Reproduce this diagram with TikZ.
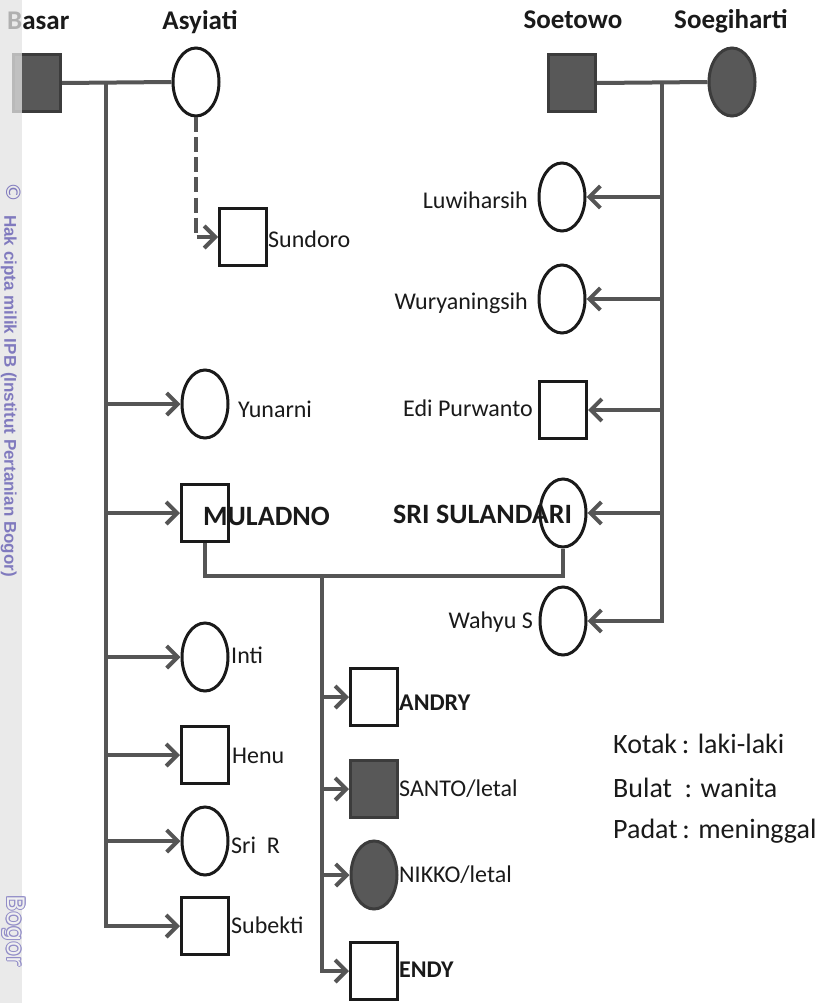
\documentclass[tikz,border=0pt]{standalone}
\usepackage{fontspec}
\setmainfont{Carlito}
\newfontfamily\wmfont{Liberation Sans}
\newfontfamily\wmcfont{DejaVu Sans}
\usetikzlibrary{arrows.meta,shapes.geometric}
\definecolor{ln}{HTML}{555555}
\definecolor{fillg}{HTML}{585858}
\definecolor{txt}{HTML}{1a1a1a}
\definecolor{wm}{RGB}{128,122,190}
\begin{document}
\begin{tikzpicture}[x=1pt,y=-1pt,
  line/.style={draw=ln, line width=4pt},
  arr/.style={line, -{Straight Barb[length=11pt,width=22pt]}},
  male/.style={rectangle, draw=txt, line width=3pt, minimum width=47pt, minimum height=57pt, inner sep=0pt, fill=white},
  female/.style={ellipse, draw=txt, line width=3pt, minimum width=46pt, minimum height=68pt, inner sep=0pt, fill=white},
  dead/.style={fill=fillg, draw=ln!70!black},
  lbl/.style={inner sep=0pt, text=txt, font=\fontsize{24}{28}\selectfont},
  blbl/.style={inner sep=0pt, text=txt, font=\fontsize{28}{32}\selectfont\bfseries},
  sblbl/.style={inner sep=0pt, text=txt, font=\fontsize{24}{28}\selectfont\bfseries},
  hdr/.style={inner sep=0pt, text=txt, font=\fontsize{27}{32}\selectfont\bfseries},
  leg/.style={inner sep=0pt, text=txt, font=\fontsize{28}{32}\selectfont},
  wmtext/.style={inner sep=0pt, text=wm, rotate=-90, anchor=base west}
]
\useasboundingbox (0,0) rectangle (828,1003);
\fill[white] (0,0) rectangle (828,1003);

% ---- persons ----
\node[male,dead] (basar) at (37,83) {};
\node[female] (asyiati) at (196,82) {};
\node[male,dead] (soetowo) at (572,83) {};
\node[female,dead] (soegiharti) at (732,82) {};
\node[male] (sundoro) at (243,237) {};
\node[female] (luwi) at (562,197) {};
\node[female] (wury) at (562,299) {};
\node[male] (edi) at (563,410) {};
\node[female] (sri) at (563,513) {};
\node[female] (wahyu) at (563,621) {};
\node[female] (yunarni) at (205,404) {};
\node[male] (muladno) at (205,513) {};
\node[female] (inti) at (205,657) {};
\node[male] (henu) at (205,755) {};
\node[female] (srir) at (205,841) {};
\node[male] (subekti) at (205,926) {};
\node[male] (andry) at (374,697) {};
\node[male,dead] (santo) at (374,789) {};
\node[female,dead] (nikko) at (374,875) {};
\node[male] (endy) at (374,971) {};

% ---- connectors ----
\coordinate (lj) at (106,83);
\coordinate (rj) at (662,82);
\coordinate (mj) at (322,576);
\draw[line] (basar.east) -- (asyiati.west);
\draw[line] (soetowo.east) -- (soegiharti.west);
\draw[arr] (lj) |- (subekti.west);
\foreach \n in {yunarni,muladno,inti,henu,srir}
  \draw[arr] (lj |- \n.west) -- (\n.west);
\draw[arr] (rj) |- (wahyu.east);
\foreach \n in {luwi,wury,edi,sri}
  \draw[arr] (rj |- \n.east) -- (\n.east);
\draw[line, dash pattern=on 15pt off 5pt, -{Straight Barb[length=11pt,width=22pt]}] (asyiati.south) |- (sundoro.west);
\draw[line] (muladno.south) |- (mj) -| (sri.south);
\draw[arr] (mj) |- (endy.west);
\foreach \n in {andry,santo,nikko}
  \draw[arr] (mj |- \n.west) -- (\n.west);

% ---- labels ----
\node[hdr, anchor=base west] (tbasar) at (7,30) {Basar};
\node[hdr, anchor=base] (tasy) at (200,30) {Asyiati};
\node[hdr, anchor=base] (tsoe) at (573,29) {Soetowo};
\node[hdr, anchor=base] (tsoeg) at (731,29) {Soegiharti};
\node[lbl, anchor=base east] (tluwi) at (528,208) {Luwiharsih};
\node[lbl, anchor=base east] (twury) at (528,309) {Wuryaningsih};
\node[lbl, anchor=base east] (tedi) at (533,416) {Edi Purwanto};
\node[blbl, anchor=base west] (tsri) at (393,523) {SRI SULANDARI};
\node[lbl, anchor=base east] (twah) at (533,628) {Wahyu S};
\node[lbl, anchor=base west] (tyun) at (238,417) {Yunarni};
\node[blbl, anchor=base west] (tmul) at (203,525) {MULADNO};
\node[lbl, anchor=base west] (tinti) at (231,663) {Inti};
\node[lbl, anchor=base west] (thenu) at (232,763) {Henu};
\node[lbl, anchor=base west] (tsrir) at (231,853) {Sri\ \ R};
\node[lbl, anchor=base west] (tsub) at (231,933) {Subekti};
\node[lbl, anchor=base west] (tsun) at (268,247) {Sundoro};
\node[sblbl, anchor=base west] (tand) at (399,710) {ANDRY};
\node[lbl, anchor=base west] (tsan) at (399,796) {SANTO/letal};
\node[lbl, anchor=base west] (tnik) at (399,882) {NIKKO/letal};
\node[sblbl, anchor=base west] (tend) at (399,977) {ENDY};
\node[leg, anchor=base west] (lg1) at (613,753) {Kotak\,: laki-laki};
\node[leg, anchor=base west] (lg2) at (613,797) {Bulat\ \ : wanita};
\node[leg, anchor=base west] (lg3) at (613,838) {Padat\,: meninggal};

% ---- watermark strip ----
\fill[gray!22, opacity=0.75] (0,0) rectangle (22,1003);
\node[wmtext, font=\wmcfont\fontsize{20}{20}\selectfont] (wmc) at (6,182) {\textcopyright};
\node[wmtext, font=\wmfont\bfseries\fontsize{17}{17}\selectfont] (wmt) at (4.5,215) {Hak cipta milik IPB (Institut Pertanian Bogor)};
\foreach \dx/\dy in {0.8/0,-0.8/0,0/0.8,0/-0.8,0.6/0.6,-0.6/0.6,0.6/-0.6,-0.6/-0.6}
  \node[wmtext, font=\wmcfont\fontsize{24}{24}\selectfont, text=wm!85] at (7.5+\dx,895+\dy) {Bogor};
\node[wmtext, font=\wmcfont\fontsize{24}{24}\selectfont, text=gray!12] (wmb) at (7.5,895) {Bogor};
\end{tikzpicture}
\end{document}
